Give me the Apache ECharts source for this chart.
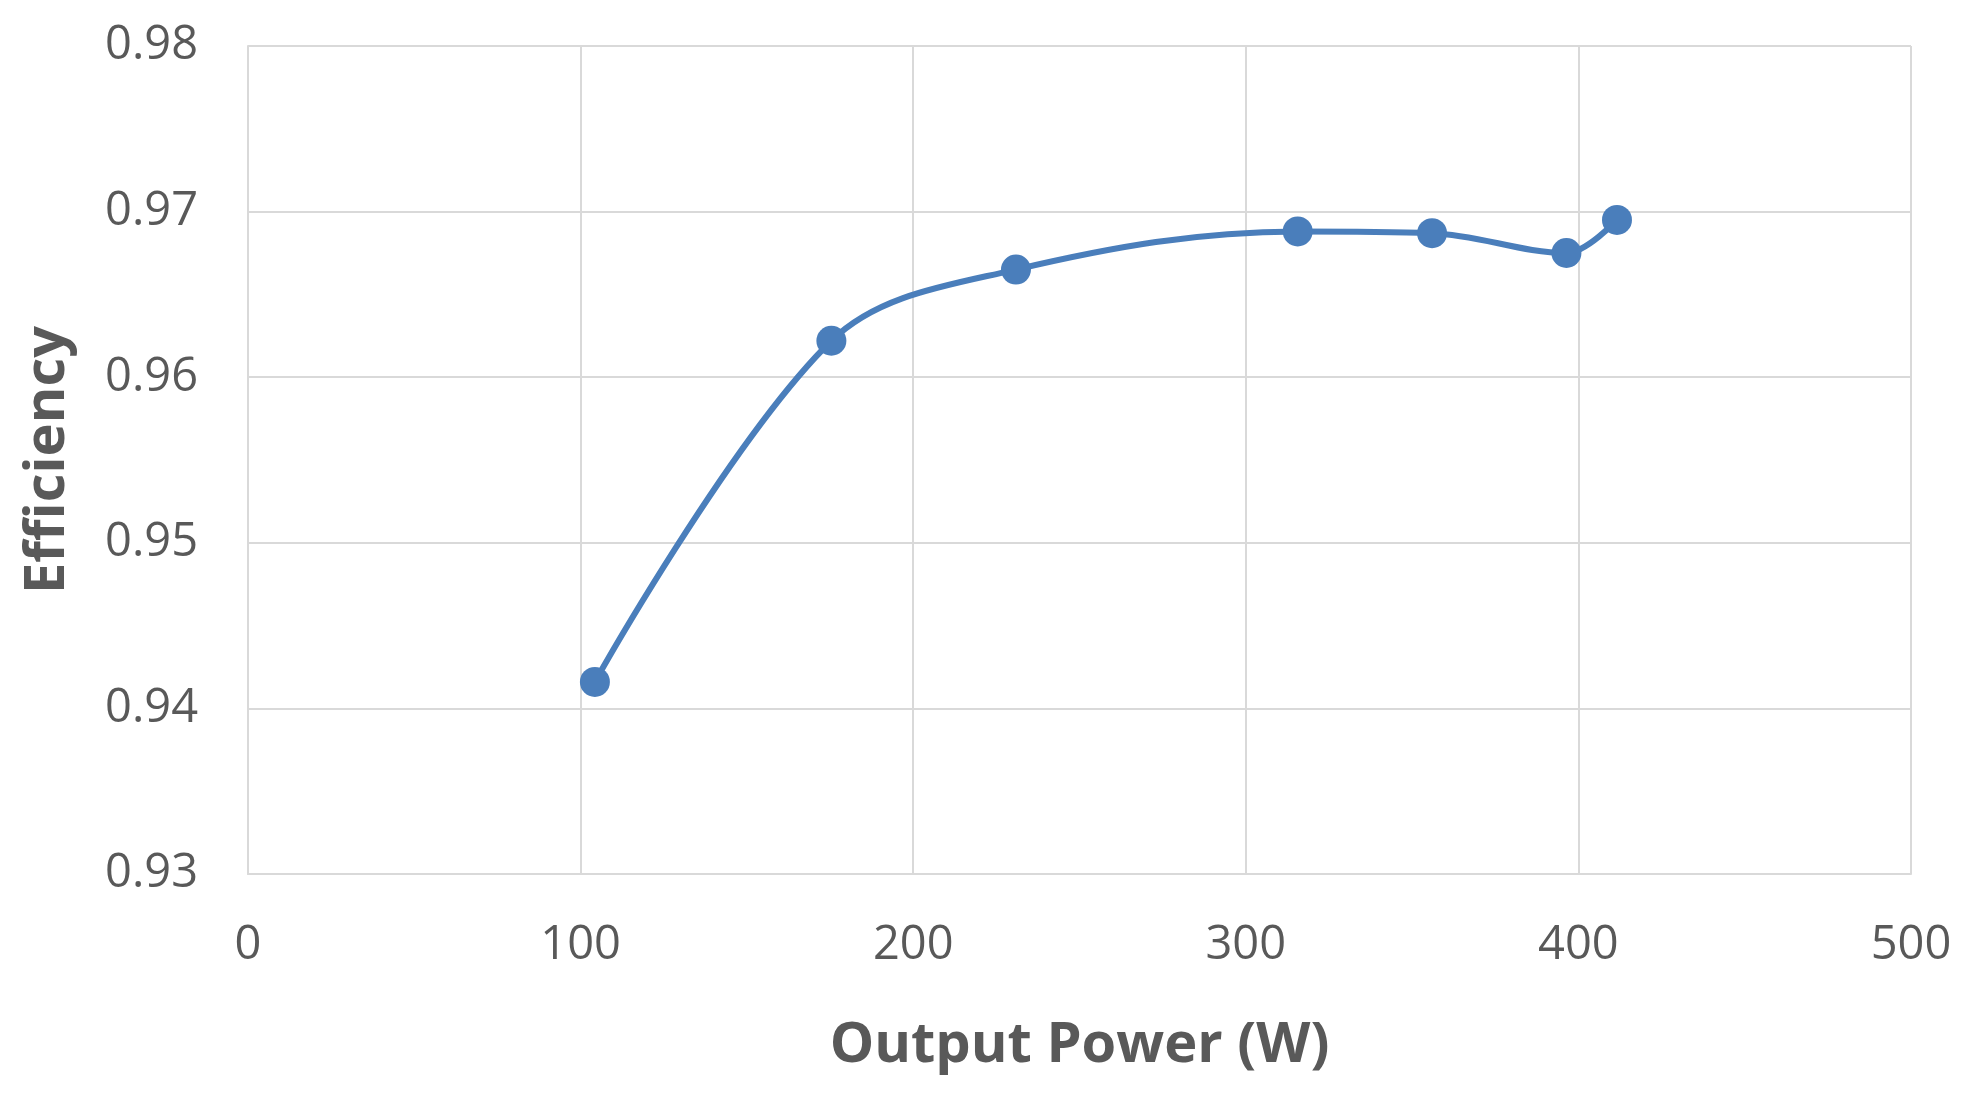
<!DOCTYPE html>
<html>
<head>
<meta charset="utf-8">
<script src="https://cdn.jsdelivr.net/npm/echarts@6/dist/echarts.min.js"></script>
<style>html,body{margin:0;padding:0;background:#fff}#main{width:1971px;height:1107px}</style>
</head>
<body>
<div id="main"></div>
<script>
var powerW = [104.3, 175.4, 230.9, 315.6, 356, 396.4, 411.6];
var efficiency = [0.9416, 0.9622, 0.9665, 0.9688, 0.9687, 0.9675, 0.9695];

var chart = echarts.init(document.getElementById('main'));
var pts = [];
for (var i = 0; i < powerW.length; i++) {
	pts.push([powerW[i], efficiency[i]]);
}
chart.setOption({
	animation: false,
	grid: { left: 248, right: 60, top: 46, bottom: 233 },
	xAxis: {
		type: 'value', min: 0, max: 500, interval: 100,
		name: 'Output Power (W)', nameLocation: 'middle', nameGap: 144,
		nameTextStyle: { fontSize: 56, fontWeight: 'bold', color: '#595959', fontFamily: 'Open Sans' },
		axisLabel: { fontSize: 47, color: '#595959', margin: 48, fontFamily: 'Open Sans' },
		axisLine: { lineStyle: { color: '#d9d9d9', width: 2 } },
		axisTick: { show: false },
		splitLine: { lineStyle: { color: '#d9d9d9', width: 2 } }
	},
	yAxis: {
		type: 'value', min: 0.93, max: 0.98, interval: 0.01,
		name: 'Efficiency', nameLocation: 'middle', nameGap: 172,
		nameTextStyle: { fontSize: 56, fontWeight: 'bold', color: '#595959', fontFamily: 'Open Sans' },
		axisLabel: { fontSize: 47, color: '#595959', margin: 50, fontFamily: 'Open Sans',
			formatter: function (v) { return v.toFixed(2); } },
		axisLine: { show: true, lineStyle: { color: '#d9d9d9', width: 2 } },
		axisTick: { show: false },
		splitLine: { lineStyle: { color: '#d9d9d9', width: 2 } }
	},
	series: [{
		type: 'line',
		data: pts,
		smooth: 0.35,
		symbol: 'circle',
		symbolSize: 30,
		lineStyle: { color: '#4a7ebb', width: 6 },
		itemStyle: { color: '#4a7ebb' }
	}]
});
</script>
</body>
</html>
